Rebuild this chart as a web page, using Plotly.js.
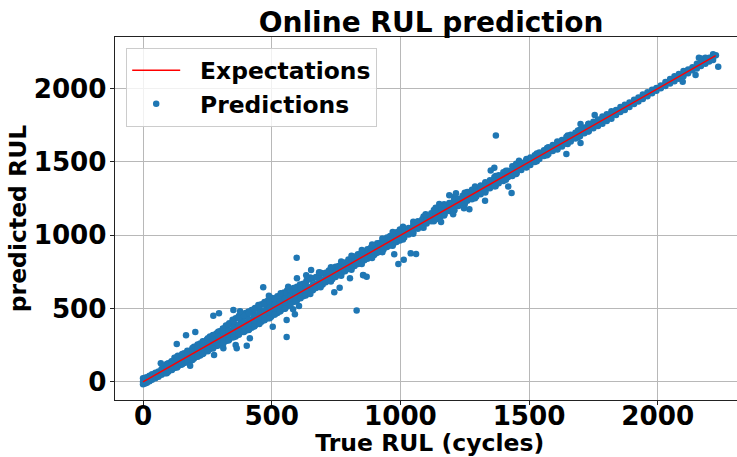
<!DOCTYPE html>
<html>
<head>
<meta charset="utf-8">
<script src="https://cdn.plot.ly/plotly-3.0.1.min.js"></script>
<style>html,body{margin:0;padding:0;background:#fff}</style>
</head>
<body>
<div id="chart" style="width:737px;height:457px"></div>
<script>
const titleText = "Online RUL prediction";
const xTitle = "True RUL (cycles)";
const yTitle = "predicted RUL";
const xTicks = [0, 500, 1000, 1500, 2000];
const yTicks = [0, 500, 1000, 1500, 2000];
const expectationEnds = [0, 2225];

const trueLow = [0,8,15,25,35,48,60,72,85,98,110,122,135,148,160,172,185,198,210,222,235,248,260,272,285,298,310,322,335,348,360,372,385,398,410,422,435,448,460,472,485,498,510,522,535,548,560,572,585,598,610,622,635,648,660,672,685,698,710,722,735,748,760,772,785,798,810,822,835,848,860,872,885,898,910,922,935,948,960,972,985,998];
const predLowTop = [25,28,32,42,52,62,72,88,102,128,140,165,178,180,195,205,215,240,245,262,275,290,310,320,330,345,365,385,400,425,435,450,462,470,480,490,505,525,530,545,555,575,570,585,590,610,625,625,640,650,665,670,690,700,705,715,730,740,745,760,770,785,790,805,815,835,840,855,870,880,890,905,915,930,945,950,965,985,995,1005,1020,1040];
const predLowMid = [2,10,12,24,38,46,62,70,88,96,112,120,138,146,162,170,188,195,212,220,238,245,263,270,288,295,313,320,338,345,364,370,389,395,414,420,439,445,464,470,489,495,514,520,539,545,564,570,589,595,614,620,639,645,664,670,689,695,714,720,739,745,764,770,789,795,814,820,839,845,864,870,889,895,914,920,939,945,964,970,989,1002];
const predLowBottom = [-15,-10,-5,5,15,25,35,50,60,70,85,95,105,118,130,140,145,160,175,180,195,215,225,235,245,260,265,280,290,305,310,325,340,350,355,370,385,400,410,425,435,445,460,470,485,500,515,530,545,555,575,585,600,610,625,640,650,665,680,690,700,715,730,745,755,770,775,790,805,815,830,840,855,865,880,890,905,920,930,940,955,965];

const trueInner = [105,130,155,180,205,230,255,280,305,330,355,380,405,430,455,480,505,530,555,580];
const predInnerTop = [122,152,172,200,222,250,278,300,332,360,392,420,445,470,492,515,540,560,585,610];
const predInnerBottom = [90,110,140,160,188,212,235,258,282,302,322,345,372,405,425,450,478,505,530,555];

const trueDense = [92,112,132,152,172,192,212,232,252,272,292,312,332,352,372,392,412,432,452,472,492,512,532,552,572,592,612,632];
const predDenseOuterTop = [122,142,170,190,212,232,255,278,298,318,342,362,392,412,432,450,470,495,518,530,545,562,580,600,618,640,655,672];
const predDenseTop = [105,128,146,168,188,206,228,248,270,288,310,330,348,370,388,408,428,448,470,488,508,528,548,568,588,608,628,648];
const predDenseBottom = [78,96,118,136,158,176,198,216,238,256,278,296,318,335,356,376,396,416,436,456,476,496,516,536,556,578,596,616];
const predDenseOuterBottom = [60,82,98,120,135,150,172,190,210,228,248,262,282,305,322,340,358,378,395,420,435,460,480,500,525,550,570,590];

const trueFuzz = [650,690,730,770,810,850,890,930,970,1010,1050,1090,1130,1170,1210,1250,1290,1330,1370,1410,1450,1490,1530,1570,1610,1650,1690,1730];
const predFuzzTop = [712,745,782,822,860,900,938,978,1022,1058,1092,1128,1172,1212,1262,1290,1332,1362,1405,1440,1488,1520,1558,1595,1640,1680,1715,1758];
const predFuzzBottom = [600,645,685,725,765,805,845,885,928,972,1010,1052,1095,1135,1170,1212,1252,1292,1335,1378,1418,1462,1505,1545,1585,1622,1668,1708];

const trueHigh = [1015,1032,1050,1068,1085,1102,1120,1138,1155,1172,1190,1208,1225,1242,1260,1278,1295,1312,1330,1348,1365,1382,1400,1418,1435,1452,1470,1488,1505,1522,1540,1558,1575,1592,1610,1628,1645,1662,1680,1698,1715,1732,1750,1768,1785,1802,1820,1838,1855,1872,1890,1908,1925,1942,1960,1978,1995,2012,2030,2048,2065,2082,2100,2118,2135,2152,2168,2185,2200,2215];
const predHighTop = [1045,1050,1070,1095,1110,1125,1150,1160,1185,1195,1220,1240,1250,1270,1295,1310,1325,1340,1355,1375,1395,1410,1430,1440,1470,1480,1495,1510,1530,1545,1565,1580,1600,1615,1635,1650,1670,1685,1700,1720,1735,1760,1775,1790,1810,1825,1845,1855,1875,1890,1905,1925,1940,1960,1975,1992,2005,2022,2045,2065,2085,2100,2120,2130,2145,2170,2205,2210,2210,2235];
const predHighMid = [1017,1030,1052,1066,1087,1100,1122,1136,1157,1170,1192,1206,1227,1240,1262,1276,1297,1310,1332,1346,1367,1380,1402,1416,1437,1450,1472,1486,1507,1520,1542,1556,1577,1590,1612,1626,1647,1660,1682,1696,1717,1730,1752,1766,1787,1800,1822,1836,1857,1870,1892,1906,1927,1940,1962,1976,1997,2010,2032,2046,2067,2080,2102,2116,2137,2150,2180,2190,2198,2212];
const predHighBottom = [985,1005,1020,1045,1055,1080,1095,1110,1125,1145,1165,1175,1200,1215,1235,1245,1265,1280,1300,1320,1335,1355,1370,1395,1405,1425,1445,1465,1480,1500,1520,1540,1555,1575,1590,1605,1625,1640,1660,1675,1695,1710,1730,1745,1760,1780,1795,1820,1840,1855,1875,1895,1912,1930,1948,1968,1985,2002,2018,2035,2050,2068,2085,2105,2125,2138,2155,2170,2185,2195];

const trueOutliers = [467,273,295,351,377,203,167,131,558,504,830,743,764,804,855,597,653,684,634,598,564,535,489,415,403,360,364,312,183,276,69,558,590,606,583,1371,976,992,1013,1040,1061,856,869,1432,1419,1329,1268,1247,1205,1158,1190,1216,1151,1137,1098,1365,1351,1461,1755,1700,1700,1645,2097,2147,2235,2160,2190,2226];
const predOutliers = [645,452,468,491,482,341,318,259,307,377,488,611,643,707,729,847,763,748,727,707,650,605,588,298,247,252,230,230,111,184,127,423,461,518,496,1681,870,804,834,877,873,727,718,1288,1332,1236,1177,1184,1143,1091,1273,1287,1214,1187,1143,1461,1441,1509,1820,1759,1629,1554,2047,2093,2149,2211,2202,2227];

const allTrue = [].concat(trueLow,trueLow,trueLow,trueInner,trueInner,trueDense,trueDense,trueDense,trueDense,trueFuzz,trueFuzz,trueHigh,trueHigh,trueHigh,trueOutliers);
const allPred = [].concat(predLowTop,predLowMid,predLowBottom,predInnerTop,predInnerBottom,predDenseOuterTop,predDenseTop,predDenseBottom,predDenseOuterBottom,predFuzzTop,predFuzzBottom,predHighTop,predHighMid,predHighBottom,predOutliers);

const font = "'DejaVu Sans', sans-serif";
const axisCommon = {
  showgrid:true, gridcolor:"#b8b8b8", gridwidth:1.2, zeroline:false,
  showline:true, linecolor:"#222", linewidth:1.4, mirror:true,
  ticks:"outside", ticklen:4, tickwidth:1, tickcolor:"#222",
  tickfont:{family:font,size:26.2,color:"#000",weight:"bold"}
};

Plotly.newPlot("chart",[
  {type:"scatter",mode:"markers",name:"&nbsp;&nbsp;<b>Predictions</b>",x:allTrue,y:allPred,
   marker:{color:"#1f77b4",size:6.5,line:{width:0}},cliponaxis:true},
  {type:"scatter",mode:"lines",name:"&nbsp;&nbsp;<b>Expectations</b>",x:expectationEnds,y:expectationEnds,
   line:{color:"#ff0000",width:1.4}}
],{
  width:737,height:457,
  margin:{l:115,r:0,t:37,b:57,pad:0},
  paper_bgcolor:"#fff",plot_bgcolor:"#fff",
  title:{text:"<b>"+titleText+"</b>",font:{family:font,size:28,color:"#000"},x:0.585,xanchor:"center",y:0.973,yanchor:"top"},
  xaxis:Object.assign({},axisCommon,{range:[-109,2308],tickvals:xTicks,ticktext:xTicks.map(String),ticklabelstandoff:-12,
    title:{text:"&nbsp;<b>"+xTitle+"</b>",font:{family:font,size:23.5,color:"#000"},standoff:12}}),
  yaxis:Object.assign({},axisCommon,{range:[-123,2352],tickvals:yTicks,ticktext:yTicks.map(String),ticklabelstandoff:-2,
    title:{text:"<b>"+yTitle+"</b>",font:{family:font,size:23.5,color:"#000"},standoff:0}}),
  legend:{x:0.018,y:0.971,xanchor:"left",yanchor:"top",traceorder:"reversed",
    bgcolor:"rgba(255,255,255,0.8)",bordercolor:"#cccccc",borderwidth:1,
    font:{family:font,size:23.4,color:"#000"},itemwidth:48,tracegroupgap:0},
  showlegend:true
},{displayModeBar:false,responsive:false});
</script>
</body>
</html>
